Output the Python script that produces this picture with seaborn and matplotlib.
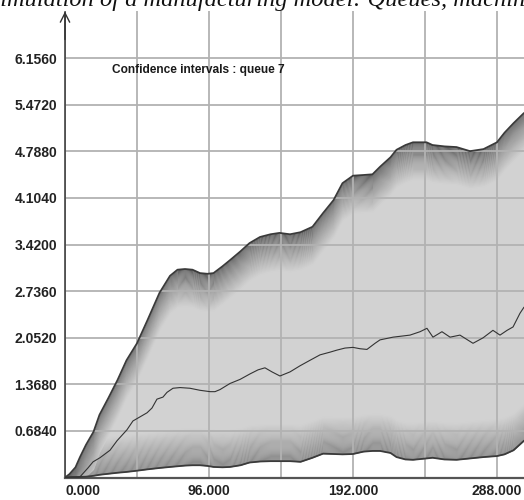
import numpy as np
import pandas as pd
import matplotlib
matplotlib.use("Agg")
import matplotlib.pyplot as plt
from matplotlib.ticker import FixedLocator, FuncFormatter
import seaborn as sns

# ---------------- data ----------------
time_bounds = [0, 3, 7, 10, 14, 19, 23, 29, 35, 41, 48, 55, 63, 70, 75, 80, 85, 90,
               95, 99, 105, 110, 117, 123, 130, 137, 143, 150, 157, 165, 172, 179,
               185, 192, 199, 205, 210, 217, 221, 227, 232, 241, 245, 253, 261, 270,
               279, 288, 293, 299, 306]
upper_ci = [0.00, 0.05, 0.15, 0.30, 0.48, 0.67, 0.92, 1.17, 1.43, 1.72, 1.97, 2.31,
            2.71, 2.96, 3.05, 3.06, 3.05, 3.00, 2.99, 3.00, 3.10, 3.19, 3.32, 3.44,
            3.53, 3.57, 3.59, 3.57, 3.60, 3.68, 3.88, 4.07, 4.32, 4.43, 4.44, 4.45,
            4.56, 4.70, 4.81, 4.88, 4.92, 4.92, 4.88, 4.86, 4.85, 4.79, 4.82, 4.92,
            5.06, 5.20, 5.35]
lower_ci = [0.000, 0.003, 0.005, 0.008, 0.012, 0.025, 0.040, 0.055, 0.070, 0.082,
            0.100, 0.120, 0.140, 0.155, 0.165, 0.175, 0.180, 0.180, 0.170, 0.155,
            0.150, 0.155, 0.180, 0.220, 0.235, 0.240, 0.240, 0.240, 0.230, 0.290,
            0.350, 0.345, 0.340, 0.345, 0.380, 0.390, 0.390, 0.360, 0.300, 0.265,
            0.260, 0.280, 0.290, 0.265, 0.260, 0.280, 0.300, 0.315, 0.340, 0.400,
            0.540]

time_mean = [0, 4.7, 10, 15.3, 18.7, 23.3, 30, 34.7, 41.3, 45.3, 50, 54.7, 58, 61.3,
             65.3, 68, 72, 76.7, 83.3, 90, 96.7, 100, 103.3, 110, 116.7, 123.3, 128.7,
             133.3, 138, 143.3, 150, 156.7, 163.3, 170, 176.7, 181.3, 186.7, 192,
             196.7, 201.3, 206.7, 210, 218.7, 230, 236.7, 241.3, 245.3, 251.3, 256.7,
             263.3, 272, 278.7, 285.3, 290, 294.7, 298.7, 303.3, 306]
mean_queue = [0.00, 0.01, 0.01, 0.14, 0.23, 0.29, 0.40, 0.54, 0.70, 0.83, 0.89, 0.95,
              1.02, 1.15, 1.18, 1.25, 1.31, 1.32, 1.31, 1.28, 1.26, 1.26, 1.29, 1.38,
              1.44, 1.52, 1.58, 1.61, 1.55, 1.49, 1.55, 1.64, 1.72, 1.80, 1.84, 1.87,
              1.90, 1.91, 1.89, 1.88, 1.97, 2.02, 2.06, 2.09, 2.14, 2.19, 2.06, 2.14,
              2.06, 2.09, 1.97, 2.05, 2.16, 2.09, 2.16, 2.21, 2.41, 2.50]

y_ticks = [0.684, 1.368, 2.052, 2.736, 3.420, 4.104, 4.788, 5.472, 6.156]
x_ticks = [0, 96, 192, 288]
x_minor = [48, 144, 240]
chart_label = "Confidence intervals : queue 7"
page_caption = "Simulation of a manufacturing model: Queues, machines"

bounds = pd.DataFrame({"time": time_bounds, "upper": upper_ci, "lower": lower_ci})
means = pd.DataFrame({"time": time_mean, "mean": mean_queue})

# ---------------- figure ----------------
sns.set_theme(style="white")
plt.rcParams["font.family"] = ["Liberation Sans", "DejaVu Sans"]

fig = plt.figure(figsize=(5.24, 5.00), dpi=100)
ax = fig.add_axes([65 / 524, 22.5 / 500, 1 - 65 / 524, 466 / 500])
ax.set_facecolor("white")

t = bounds["time"].to_numpy(float)
up = bounds["upper"].to_numpy(float)
lo = bounds["lower"].to_numpy(float)

base = np.array([0xd2, 0xd2, 0xd2]) / 255
ax.fill_between(t, lo, up, color=base, lw=0, zorder=0.5)

n = 40
# lower-edge shading (darker just above the lower bound)
dark_lo = np.array([0x86, 0x86, 0x86]) / 255
depth_lo = 0.55
for k in range(n):
    d0 = depth_lo * k / n
    d1 = depth_lo * (k + 1) / n
    f = ((k + 0.5) / n) ** 1.1
    c = dark_lo * (1 - f) + base * f
    y0 = np.minimum(lo + d0, up)
    y1 = np.minimum(lo + d1, up)
    ax.fill_between(t, y0, y1, color=c, lw=0, zorder=0.6, antialiased=False)

# upper-edge shading (dark at the upper bound)
dark_up = np.array([0x55, 0x55, 0x55]) / 255
depth_up = 0.55
for k in range(n):
    d0 = depth_up * k / n
    d1 = depth_up * (k + 1) / n
    f = ((k + 0.5) / n) ** 0.8
    c = dark_up * (1 - f) + base * f
    y0 = np.maximum(up - d1, lo)
    y1 = np.maximum(up - d0, lo)
    ax.fill_between(t, y0, y1, color=c, lw=0, zorder=0.7, antialiased=False)

line_col = "#3a3a3a"
sns.lineplot(data=bounds, x="time", y="upper", ax=ax, color=line_col, lw=1.3,
             zorder=3, estimator=None, sort=False)
sns.lineplot(data=bounds, x="time", y="lower", ax=ax, color=line_col, lw=1.3,
             zorder=3, estimator=None, sort=False)
sns.lineplot(data=means, x="time", y="mean", ax=ax, color="#333333", lw=0.8,
             zorder=3, estimator=None, sort=False)

ax.set_xlim(0, 306)
ax.set_ylim(0, 6.84)
ax.set_xlabel("")
ax.set_ylabel("")

ax.xaxis.set_major_locator(FixedLocator(x_ticks))
ax.xaxis.set_minor_locator(FixedLocator(x_minor))
ax.yaxis.set_major_locator(FixedLocator(y_ticks))
ax.xaxis.set_major_formatter(FuncFormatter(lambda v, p: f"{v:.3f}"))
ax.yaxis.set_major_formatter(FuncFormatter(lambda v, p: f"{v:.4f}"))

ax.set_axisbelow("line")
ax.grid(True, which="both", axis="x", color="#b2b2b2", lw=1.3)
ax.grid(True, which="major", axis="y", color="#b2b2b2", lw=1.3)

ax.tick_params(axis="both", which="both", length=0)
ax.tick_params(axis="y", pad=5.5, labelsize=10, labelcolor="#222222")
ax.tick_params(axis="x", pad=5, labelsize=10, labelcolor="#222222")
for lab in ax.get_yticklabels() + ax.get_xticklabels():
    lab.set_fontweight("bold")
xl = ax.get_xticklabels()
xl[0].set_horizontalalignment("left")

for s in ["top", "right"]:
    ax.spines[s].set_visible(False)
ax.spines["left"].set_color("#333333")
ax.spines["left"].set_linewidth(1.1)
ax.spines["bottom"].set_color("#555555")
ax.spines["bottom"].set_linewidth(1.6)

ax.annotate("", xy=(0, 1.0), xytext=(0, 0.94), xycoords="axes fraction",
            arrowprops=dict(arrowstyle="->,head_length=0.55,head_width=0.28",
                            color="#333333", lw=1.0, shrinkA=0, shrinkB=0),
            annotation_clip=False)

ax.text(47 / 459, (477.5 - 70) / 466, chart_label, transform=ax.transAxes,
        ha="left", va="center", fontsize=8.6, fontweight="bold", color="#1a1a1a")

fig.text(-12 / 524, 1 - 6 / 500, page_caption, ha="left", va="baseline",
         fontsize=17.6, style="italic", family=["Liberation Serif", "DejaVu Serif"],
         color="#111111")

fig.savefig("out.png", dpi=100)
